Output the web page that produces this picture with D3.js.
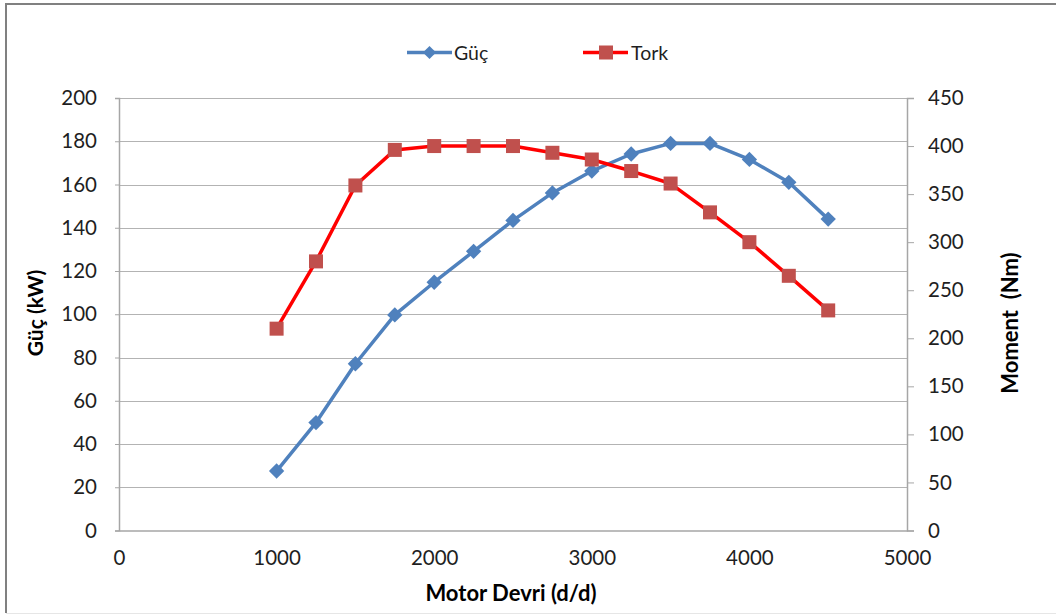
<!DOCTYPE html>
<html>
<head>
<meta charset="utf-8">
<script src="https://cdn.jsdelivr.net/npm/d3@7"></script>
<style>
  html, body { margin: 0; padding: 0; background: #fff; }
  svg { display: block; font-family: Lato, "Open Sans", sans-serif; }
</style>
</head>
<body>
<svg id="chart" width="1056" height="615"></svg>
<script>
// Engine speed (rpm)
const rpm = [1000, 1250, 1500, 1750, 2000, 2250, 2500, 2750, 3000, 3250, 3500, 3750, 4000, 4250, 4500];
// Power (kW)
const power = [27.5, 49.9, 77.1, 99.7, 114.8, 129.1, 143.4, 156.1, 166.2, 174.1, 179.0, 179.0, 171.6, 161.0, 144.0];
// Torque (Nm)
const torque = [210, 280, 359, 396, 400, 400, 400, 393, 386, 374, 361, 331, 300, 265, 229];

const xTicks = [0, 1000, 2000, 3000, 4000, 5000];
const powerTicks = [0, 20, 40, 60, 80, 100, 120, 140, 160, 180, 200];
const torqueTicks = [0, 50, 100, 150, 200, 250, 300, 350, 400, 450];

const svg = d3.select("#chart");
const W = 1056, H = 615;
const plot = { left: 119, right: 907, top: 98, bottom: 530.5 };

const x = d3.scaleLinear().domain([0, 5000]).range([plot.left, plot.right]);
const yP = d3.scaleLinear().domain([0, 200]).range([plot.bottom, plot.top]);
const yT = d3.scaleLinear().domain([0, 450]).range([plot.bottom, plot.top]);

const blue = "#4F81BD", redLine = "#FF0000", redMark = "#C0504D";
const gridCol = "#B3B3B3", axisCol = "#A6A6A6", textCol = "#1F1F1F";

// outer frame
svg.append("line").attr("x1", 5).attr("x2", W).attr("y1", 4).attr("y2", 4)
  .attr("stroke", "#808080").attr("stroke-width", 2);
svg.append("line").attr("x1", 6).attr("x2", 6).attr("y1", 4).attr("y2", 613)
  .attr("stroke", "#808080").attr("stroke-width", 2);
svg.append("line").attr("x1", 6).attr("x2", W).attr("y1", 613.5).attr("y2", 613.5)
  .attr("stroke", "#E6E6E6").attr("stroke-width", 1);

// horizontal gridlines
svg.append("g").selectAll("line").data(powerTicks.slice(1)).join("line")
  .attr("x1", plot.left).attr("x2", plot.right)
  .attr("y1", d => Math.round(yP(d)) + 0.5).attr("y2", d => Math.round(yP(d)) + 0.5)
  .attr("stroke", gridCol).attr("stroke-width", 1);

// left axis
const leftAxis = svg.append("g").attr("transform", `translate(${plot.left},0)`)
  .call(d3.axisLeft(yP).tickValues(powerTicks).tickSize(4).tickPadding(18).tickFormat(d3.format("d")));
// right axis
const rightAxis = svg.append("g").attr("transform", `translate(${plot.right},0)`)
  .call(d3.axisRight(yT).tickValues(torqueTicks).tickSize(7).tickPadding(14).tickFormat(d3.format("d")));
// bottom axis
const bottomAxis = svg.append("g").attr("transform", `translate(0,${plot.bottom})`)
  .call(d3.axisBottom(x).tickValues(xTicks).tickSize(0).tickPadding(20).tickFormat(d3.format("d")));

[leftAxis, rightAxis, bottomAxis].forEach(g => {
  g.select(".domain").attr("stroke", axisCol).attr("stroke-width", 1.5);
  g.selectAll(".tick line").attr("stroke", axisCol);
  g.selectAll(".tick text").attr("fill", textCol)
    .style("font-family", "Lato, 'Open Sans', sans-serif").style("font-size", "20.5px");
});

// axis titles
svg.append("text").attr("x", 511).attr("y", 601).attr("text-anchor", "middle")
  .attr("font-weight", "bold").attr("font-size", "22px").attr("fill", "#000")
  .text("Motor Devri (d/d)");
svg.append("text").attr("transform", "translate(43,313) rotate(-90)").attr("text-anchor", "middle")
  .attr("font-weight", "bold").attr("font-size", "21px").attr("fill", "#000")
  .text("Güç (kW)");
svg.append("text").attr("transform", "translate(1018,323) rotate(-90)").attr("text-anchor", "middle")
  .attr("font-weight", "bold").attr("font-size", "22px").attr("fill", "#000")
  .attr("xml:space", "preserve").style("white-space", "pre")
  .text("Moment  (Nm)");

// series lines
const powerData = rpm.map((r, i) => [r, power[i]]);
const torqueData = rpm.map((r, i) => [r, torque[i]]);

svg.append("path").datum(powerData)
  .attr("fill", "none").attr("stroke", blue).attr("stroke-width", 3.5).attr("stroke-linejoin", "round")
  .attr("d", d3.line().x(d => x(d[0])).y(d => yP(d[1])));
svg.append("path").datum(torqueData)
  .attr("fill", "none").attr("stroke", redLine).attr("stroke-width", 3.5).attr("stroke-linejoin", "round")
  .attr("d", d3.line().x(d => x(d[0])).y(d => yT(d[1])));

// markers
const diamond = d3.symbol().type(d3.symbolDiamond2).size(150);
svg.append("g").selectAll("path").data(powerData).join("path")
  .attr("transform", d => `translate(${x(d[0])},${yP(d[1])})`)
  .attr("d", diamond).attr("fill", blue);
svg.append("g").selectAll("rect").data(torqueData).join("rect")
  .attr("x", d => x(d[0]) - 7).attr("y", d => yT(d[1]) - 7)
  .attr("width", 14).attr("height", 14).attr("fill", redMark);

// legend
const legend = svg.append("g");
legend.append("line").attr("x1", 407).attr("x2", 452).attr("y1", 52.5).attr("y2", 52.5)
  .attr("stroke", blue).attr("stroke-width", 3.5);
legend.append("path").attr("transform", "translate(429.5,52.5)")
  .attr("d", d3.symbol().type(d3.symbolDiamond2).size(110)).attr("fill", blue);
legend.append("text").attr("x", 454).attr("y", 59.5).attr("font-size", "19.5px").attr("fill", textCol).text("Güç");
legend.append("line").attr("x1", 583).attr("x2", 628).attr("y1", 52.5).attr("y2", 52.5)
  .attr("stroke", redLine).attr("stroke-width", 3.5);
legend.append("rect").attr("x", 599).attr("y", 45.5).attr("width", 14).attr("height", 14).attr("fill", redMark);
legend.append("text").attr("x", 631).attr("y", 59.5).attr("font-size", "19.5px").attr("fill", textCol).text("Tork");
</script>
</body>
</html>
